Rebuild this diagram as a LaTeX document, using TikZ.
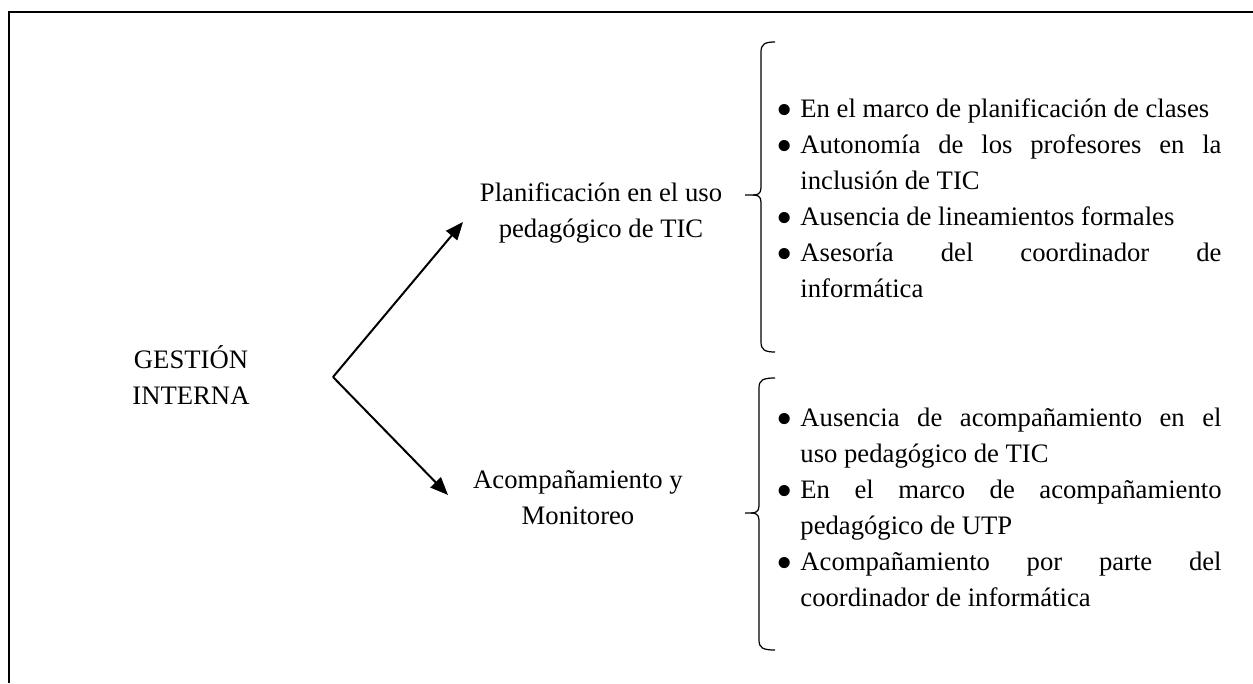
\documentclass[tikz,border=0pt]{standalone}
\usepackage{fontspec}
\setmainfont{Liberation Serif}
\usetikzlibrary{arrows.meta}
\hyphenpenalty=10000
\exhyphenpenalty=10000

\tikzset{
  concept/.style={align=center, inner sep=0pt, font=\fontsize{12}{16.2}\selectfont},
  itemlist/.style={text width=189.5pt, align=justify, inner sep=0pt, anchor=north west,
    font=\fontsize{12}{16.2}\selectfont},
  flow/.style={-{Triangle[length=8pt,width=6.5pt]}, line width=0.9pt},
  curly/.style={line width=0.55pt}
}
\newcommand{\bulletmark}{\raisebox{-3.6pt}{\fontsize{21}{21}\selectfont\textbullet}}
\newcommand{\itm}{\par\noindent\strut\llap{\bulletmark\hspace{3.5pt}}}

\begin{document}
\begin{tikzpicture}[x=0.45pt, y=-0.45pt] % one unit = one pixel of the page
    \useasboundingbox (0,0) rectangle (1253,683);

    % Frame
    \draw[line width=1pt] (1253,12) -- (9,12) -- (9,683);

    % Main concept
    \node[concept] (gestion) at (191,375) {GESTIÓN\\INTERNA};

    % Sub concepts
    \node[concept] (plan) at (601,213) {Planificación en el uso\\pedagógico de TIC};
    \node[concept] (acomp) at (578,498) {Acompañamiento y\\Monitoreo};

    % Arrows from the main concept
    \coordinate (split) at (333,377);
    \coordinate (planTip) at (463,222);
    \coordinate (acompTip) at (448,495);
    \draw[flow] (split) -- (planTip);
    \draw[flow] (split) -- (acompTip);

    % Upper brace
    \begin{scope}[shift={(761,195)}]
        \draw[curly] (14,-153) .. controls (4,-153) and (0,-151) .. (0,-143) -- (0,-7)
            .. controls (0,-1) and (-4,0) .. (-8,0) -- (-16,0);
        \draw[curly] (14,157) .. controls (4,157) and (0,155) .. (0,147) -- (0,7)
            .. controls (0,1) and (-4,0) .. (-8,0);
    \end{scope}

    % Lower brace
    \begin{scope}[shift={(759,513)}]
        \draw[curly] (16,-135) .. controls (4,-135) and (0,-133) .. (0,-125) -- (0,-7)
            .. controls (0,-1) and (-4,0) .. (-8,0) -- (-14,0);
        \draw[curly] (16,137) .. controls (4,137) and (0,135) .. (0,127) -- (0,7)
            .. controls (0,1) and (-4,0) .. (-8,0);
    \end{scope}

    % Item lists
    \node[itemlist] (planlist) at (800,81) {%
        \itm En el marco de planificación de clases
        \itm Autonomía de los profesores en la\linebreak inclusión de TIC
        \itm Ausencia de lineamientos formales
        \itm Asesoría del coordinador de\linebreak informática\par};
    \node[itemlist] (acomplist) at (800,390) {%
        \itm Ausencia de acompañamiento en el\linebreak uso pedagógico de TIC
        \itm En el marco de acompañamiento\linebreak pedagógico de UTP
        \itm Acompañamiento por parte del\linebreak coordinador de informática\par};
\end{tikzpicture}
\end{document}
